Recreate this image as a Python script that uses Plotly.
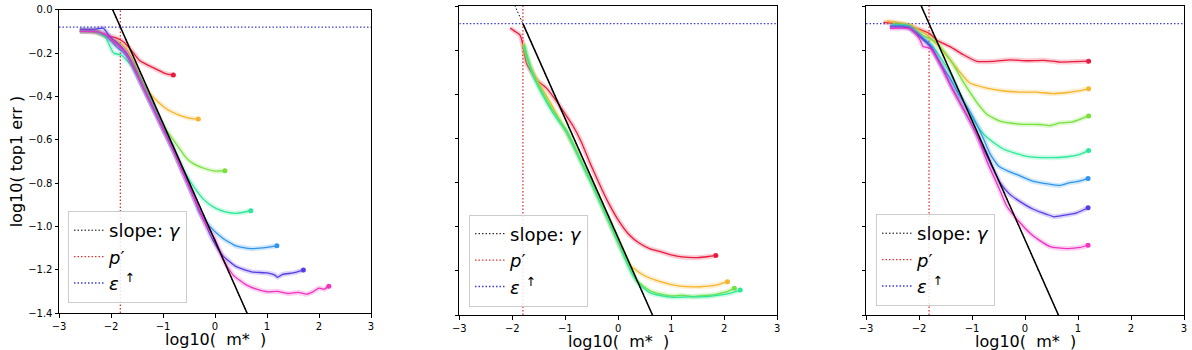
import numpy as np
import plotly.graph_objects as go

# ---------------- data ----------------
X_RANGE = [-3, 3]
Y_RANGE = [-1.4, 0.0]
X_TICKS = [-3, -2, -1, 0, 1, 2, 3]
Y_TICKS = [0.0, -0.2, -0.4, -0.6, -0.8, -1.0, -1.2, -1.4]

X_TITLE = "log10(  m*  )"
Y_TITLE = "log10( top1 err )"
LEGEND_NAMES = ["slope: <i>γ</i>", "<i>p</i>′", "<i>ε</i> <sup>↑</sup>"]

COLORS = ["#e81c3e", "#f5b52e", "#78e13a", "#2de898", "#2f95ee", "#5a3ce4", "#f034c0"]

GAMMA = [-0.542, -0.540, -0.541]       # fitted slope per panel
P_PRIME = [-1.82, -1.80, -1.81]        # p' per panel
EPS_UP = [-0.08, -0.08, -0.08]         # epsilon-up per panel
SOLID_FROM_P = [False, True, False]    # solid slope line only after p'

# panel 1
A1_X = [-2.6, -2.3, -2.05, -1.9, -1.75, -1.6, -1.45, -1.3, -1.15, -1.0, -0.9, -0.8]
A1_Y = [-0.10, -0.105, -0.12, -0.13, -0.15, -0.19, -0.235, -0.255, -0.272, -0.29, -0.298, -0.301]
A2_X = [-2.6, -2.3, -2.1, -1.9, -1.75, -1.6, -1.45, -1.35, -1.2, -1.05, -0.9, -0.7, -0.5, -0.32]
A2_Y = [-0.095, -0.10, -0.125, -0.145, -0.17, -0.22, -0.30, -0.355, -0.40, -0.435, -0.463, -0.485, -0.50, -0.505]
A3_X = [-2.6, -2.3, -2.1, -1.9, -1.75, -1.6, -1.4, -1.2, -1.0, -0.85, -0.7, -0.55, -0.4, -0.2, 0.0, 0.19]
A3_Y = [-0.10, -0.095, -0.12, -0.16, -0.19, -0.24, -0.33, -0.43, -0.53, -0.585, -0.635, -0.685, -0.713, -0.733, -0.745, -0.743]
A4_X = [-2.6, -2.3, -2.1, -1.95, -1.8, -1.6, -1.4, -1.2, -1.0, -0.8, -0.6, -0.4, -0.2, 0.0, 0.2, 0.4, 0.55, 0.69]
A4_Y = [-0.095, -0.10, -0.13, -0.20, -0.21, -0.26, -0.35, -0.44, -0.54, -0.64, -0.74, -0.82, -0.88, -0.915, -0.933, -0.94, -0.935, -0.928]
A5_X = [-2.6, -2.3, -2.1, -1.9, -1.75, -1.6, -1.4, -1.2, -1.0, -0.8, -0.6, -0.4, -0.3, -0.1, 0.15, 0.4, 0.7, 1.0, 1.19]
A5_Y = [-0.10, -0.10, -0.12, -0.17, -0.20, -0.25, -0.35, -0.45, -0.55, -0.65, -0.76, -0.87, -0.935, -1.0, -1.055, -1.09, -1.103, -1.097, -1.09]
A6_X = [-2.6, -2.3, -2.15, -2.02, -1.85, -1.7, -1.55, -1.4, -1.2, -1.0, -0.8, -0.6, -0.4, -0.2, -0.05, 0.15, 0.4, 0.7, 1.0, 1.15, 1.2, 1.3, 1.5, 1.7]
A6_Y = [-0.09, -0.09, -0.085, -0.125, -0.16, -0.20, -0.27, -0.35, -0.45, -0.55, -0.65, -0.76, -0.87, -0.98, -1.06, -1.135, -1.185, -1.21, -1.215, -1.225, -1.235, -1.222, -1.215, -1.202]
A7_X = [-2.6, -2.3, -2.1, -1.9, -1.75, -1.6, -1.4, -1.2, -1.0, -0.8, -0.6, -0.4, -0.2, 0.0, 0.15, 0.35, 0.6, 0.8, 1.0, 1.2, 1.4, 1.6, 1.76, 1.9, 2.0, 2.1, 2.19]
A7_Y = [-0.10, -0.10, -0.115, -0.16, -0.19, -0.25, -0.35, -0.45, -0.55, -0.65, -0.76, -0.87, -0.98, -1.06, -1.15, -1.225, -1.27, -1.29, -1.302, -1.30, -1.31, -1.305, -1.313, -1.30, -1.285, -1.29, -1.276]

# panel 2
B1_X = [-2.04, -1.95, -1.86, -1.82, -1.73, -1.54, -1.35, -1.2, -1.0, -0.85, -0.7, -0.53, -0.35, -0.2, 0.0, 0.2, 0.4, 0.6, 0.8, 1.0, 1.2, 1.5, 1.7, 1.84]
B1_Y = [-0.10, -0.115, -0.13, -0.155, -0.26, -0.335, -0.373, -0.42, -0.49, -0.545, -0.615, -0.713, -0.81, -0.885, -0.97, -1.035, -1.075, -1.10, -1.113, -1.128, -1.137, -1.14, -1.135, -1.13]
B2_X = [-1.80, -1.75, -1.65, -1.5, -1.3, -1.1, -0.9, -0.7, -0.5, -0.3, -0.1, 0.1, 0.22, 0.47, 0.79, 1.16, 1.54, 1.86, 2.06]
B2_Y = [-0.17, -0.22, -0.28, -0.35, -0.43, -0.52, -0.61, -0.705, -0.80, -0.91, -1.02, -1.12, -1.174, -1.219, -1.249, -1.269, -1.272, -1.264, -1.249]
B3_X = [-1.78, -1.7, -1.6, -1.48, -1.23, -0.97, -0.72, -0.5, -0.3, -0.1, 0.1, 0.25, 0.35, 0.6, 0.8, 1.04, 1.2, 1.415, 1.6, 1.79, 1.95, 2.05, 2.19]
B3_Y = [-0.17, -0.24, -0.31, -0.37, -0.475, -0.565, -0.69, -0.80, -0.905, -1.01, -1.12, -1.2, -1.245, -1.29, -1.305, -1.314, -1.31, -1.317, -1.312, -1.309, -1.30, -1.294, -1.279]
B4_X = [-1.78, -1.7, -1.6, -1.48, -1.23, -0.97, -0.72, -0.5, -0.3, -0.1, 0.1, 0.25, 0.41, 0.6, 0.8, 1.04, 1.3, 1.67, 1.9, 2.11, 2.2, 2.3]
B4_Y = [-0.18, -0.25, -0.32, -0.38, -0.485, -0.575, -0.70, -0.81, -0.915, -1.02, -1.13, -1.21, -1.265, -1.30, -1.312, -1.32, -1.318, -1.317, -1.31, -1.302, -1.295, -1.287]

# panel 3
C1_X = [-2.67, -2.3, -2.0, -1.8, -1.67, -1.415, -1.16, -0.91, -0.6, -0.28, 0.03, 0.35, 0.66, 0.95, 1.2]
C1_Y = [-0.074, -0.083, -0.105, -0.125, -0.154, -0.184, -0.221, -0.251, -0.251, -0.244, -0.248, -0.246, -0.254, -0.252, -0.25]
C2_X = [-2.61, -2.4, -2.17, -1.855, -1.54, -1.29, -1.04, -0.72, -0.4, -0.1, 0.2, 0.534, 0.8, 1.0, 1.2]
C2_Y = [-0.068, -0.075, -0.086, -0.131, -0.206, -0.281, -0.349, -0.372, -0.385, -0.39, -0.39, -0.397, -0.392, -0.385, -0.375]
C3_X = [-2.5, -2.2, -1.95, -1.67, -1.5, -1.35, -1.2, -1.04, -0.9, -0.72, -0.47, -0.1, 0.28, 0.47, 0.66, 0.9, 1.2]
C3_Y = [-0.08, -0.09, -0.13, -0.165, -0.215, -0.266, -0.33, -0.39, -0.44, -0.49, -0.522, -0.535, -0.537, -0.542, -0.53, -0.525, -0.498]
C4_X = [-2.5, -2.2, -1.95, -1.75, -1.55, -1.4, -1.25, -1.04, -0.85, -0.72, -0.41, 0.03, 0.47, 0.8, 1.0, 1.2]
C4_Y = [-0.085, -0.09, -0.14, -0.18, -0.25, -0.31, -0.39, -0.49, -0.56, -0.595, -0.648, -0.681, -0.687, -0.683, -0.675, -0.655]
C5_X = [-2.55, -2.2, -1.95, -1.75, -1.6, -1.415, -1.25, -1.04, -0.79, -0.66, -0.5, -0.3, -0.157, 0.157, 0.4, 0.66, 0.85, 1.0, 1.19]
C5_Y = [-0.09, -0.095, -0.14, -0.19, -0.26, -0.327, -0.40, -0.477, -0.598, -0.67, -0.725, -0.75, -0.763, -0.795, -0.805, -0.813, -0.80, -0.795, -0.781]
C6_X = [-2.55, -2.2, -1.98, -1.8, -1.6, -1.4, -1.2, -1.0, -0.8, -0.6, -0.47, -0.3, -0.157, 0.157, 0.41, 0.55, 0.72, 0.975, 1.19]
C6_Y = [-0.095, -0.10, -0.14, -0.18, -0.26, -0.36, -0.45, -0.54, -0.64, -0.74, -0.80, -0.85, -0.876, -0.921, -0.944, -0.955, -0.949, -0.937, -0.914]
C7_X = [-2.55, -2.3, -2.17, -2.05, -1.98, -1.92, -1.79, -1.6, -1.35, -1.1, -0.91, -0.72, -0.5, -0.345, -0.094, 0.157, 0.47, 0.79, 1.04, 1.19]
C7_Y = [-0.101, -0.10, -0.104, -0.13, -0.154, -0.184, -0.191, -0.266, -0.387, -0.492, -0.583, -0.703, -0.82, -0.906, -0.982, -1.042, -1.09, -1.099, -1.094, -1.084]

PANELS = [
    [(A1_X, A1_Y), (A2_X, A2_Y), (A3_X, A3_Y), (A4_X, A4_Y), (A5_X, A5_Y), (A6_X, A6_Y), (A7_X, A7_Y)],
    [(B1_X, B1_Y), (B2_X, B2_Y), (B3_X, B3_Y), (B4_X, B4_Y)],
    [(C1_X, C1_Y), (C2_X, C2_Y), (C3_X, C3_Y), (C4_X, C4_Y), (C5_X, C5_Y), (C6_X, C6_Y), (C7_X, C7_Y)],
]

# ---------------- layout helpers ----------------
W, H = 1192, 350
FONT = "DejaVu Sans"
X_DOMAINS = [(59 / W, 371 / W), (459.3 / W, 777.3 / W), (866 / W, 1184 / W)]
Y_DOMAINS = [(1 - 313 / H, 1 - 9.7 / H), (1 - 315 / H, 1 - 6 / H), (1 - 315 / H, 1 - 6 / H)]
LEGEND_POS = [(68 / W, 1 - 303 / H), (469 / W, 1 - 306.5 / H), (876 / W, 1 - 306 / H)]
XTITLE_Y = [1 - 339.5 / H, 1 - 341 / H, 1 - 341 / H]
YTITLE_X = 16 / W

SLOPE_COLOR = "black"
P_COLOR = "#e03434"
EPS_COLOR = "#3c3cd8"


def rgba(hexc, a):
    hexc = hexc.lstrip("#")
    r, g, b = int(hexc[0:2], 16), int(hexc[2:4], 16), int(hexc[4:6], 16)
    return f"rgba({r},{g},{b},{a})"


fig = go.Figure()

for i, curves in enumerate(PANELS):
    sfx = "" if i == 0 else str(i + 1)
    xa, ya = "x" + sfx, "y" + sfx
    leg = "legend" + sfx
    g, p, e = GAMMA[i], P_PRIME[i], EPS_UP[i]

    # reference lines (legend entries)
    sx = np.array(X_RANGE, dtype=float)
    sy = e + g * (sx - p)
    fig.add_trace(go.Scatter(x=sx, y=sy, mode="lines", xaxis=xa, yaxis=ya,
                             line=dict(color=SLOPE_COLOR, width=1.0, dash="1.5px,2px"),
                             name=LEGEND_NAMES[0], legend=leg, showlegend=True))
    fig.add_trace(go.Scatter(x=[p, p], y=Y_RANGE, mode="lines", xaxis=xa, yaxis=ya,
                             line=dict(color=P_COLOR, width=1.3, dash="1.5px,2px"),
                             name=LEGEND_NAMES[1], legend=leg, showlegend=True))
    fig.add_trace(go.Scatter(x=X_RANGE, y=[e, e], mode="lines", xaxis=xa, yaxis=ya,
                             line=dict(color=EPS_COLOR, width=1.3, dash="1.5px,2px"),
                             name=LEGEND_NAMES[2], legend=leg, showlegend=True))

    # curves
    for k, (cx, cy) in enumerate(curves):
        col = COLORS[k]
        fig.add_trace(go.Scatter(x=cx, y=cy, mode="lines", xaxis=xa, yaxis=ya,
                                 line=dict(color=rgba(col, 0.22), width=5, shape="spline", smoothing=0.5),
                                 showlegend=False, hoverinfo="skip"))
        fig.add_trace(go.Scatter(x=cx, y=cy, mode="lines", xaxis=xa, yaxis=ya,
                                 line=dict(color=col, width=1.3, shape="spline", smoothing=0.5),
                                 showlegend=False))
        fig.add_trace(go.Scatter(x=[cx[-1]], y=[cy[-1]], mode="markers", xaxis=xa, yaxis=ya,
                                 marker=dict(color=col, size=5), showlegend=False))

    # solid slope line
    x0 = p if SOLID_FROM_P[i] else X_RANGE[0]
    lx = np.array([x0, X_RANGE[1]], dtype=float)
    ly = e + g * (lx - p)
    fig.add_trace(go.Scatter(x=lx, y=ly, mode="lines", xaxis=xa, yaxis=ya,
                             line=dict(color="black", width=1.5),
                             showlegend=False))

layout = dict(
    width=W, height=H,
    margin=dict(l=0, r=0, t=0, b=0, autoexpand=False),
    paper_bgcolor="white", plot_bgcolor="white",
    font=dict(family=FONT, color="black", size=10),
)

annotations = []
for i in range(3):
    sfx = "" if i == 0 else str(i + 1)
    layout["xaxis" + sfx] = dict(
        domain=list(X_DOMAINS[i]), anchor="y" + sfx, range=X_RANGE, automargin=False,
        tickvals=X_TICKS, ticks="outside", ticklen=3.5, tickwidth=0.8, tickcolor="black",
        showline=True, linecolor="black", linewidth=1, mirror=True, showgrid=False, zeroline=False,
        tickfont=dict(size=10, family=FONT),
    )
    layout["yaxis" + sfx] = dict(
        domain=list(Y_DOMAINS[i]), anchor="x" + sfx, range=Y_RANGE, automargin=False,
        tickvals=Y_TICKS, tickformat=".1f", ticks="outside", ticklen=3.5, tickwidth=0.8, tickcolor="black",
        showline=True, linecolor="black", linewidth=1, mirror=True, showgrid=False, zeroline=False,
        showticklabels=(i == 0), tickfont=dict(size=10, family=FONT),
    )
    lx, ly = LEGEND_POS[i]
    layout["legend" + sfx] = dict(
        x=lx, y=ly, xanchor="left", yanchor="bottom",
        bgcolor="rgba(255,255,255,0.85)", bordercolor="#cccccc", borderwidth=1,
        font=dict(size=18, family=FONT), itemwidth=30, tracegroupgap=0,
    )
    annotations.append(dict(
        text=X_TITLE, xref="paper", yref="paper",
        x=(X_DOMAINS[i][0] + X_DOMAINS[i][1]) / 2, y=XTITLE_Y[i],
        xanchor="center", yanchor="middle", showarrow=False,
        font=dict(size=16, family=FONT, color="black"),
    ))

annotations.append(dict(
    text=Y_TITLE, xref="paper", yref="paper",
    x=YTITLE_X, y=(Y_DOMAINS[0][0] + Y_DOMAINS[0][1]) / 2,
    xanchor="center", yanchor="middle", textangle=-90, showarrow=False,
    font=dict(size=16, family=FONT, color="black"),
))
layout["annotations"] = annotations

fig.update_layout(**layout)
fig.write_html("out.html")
